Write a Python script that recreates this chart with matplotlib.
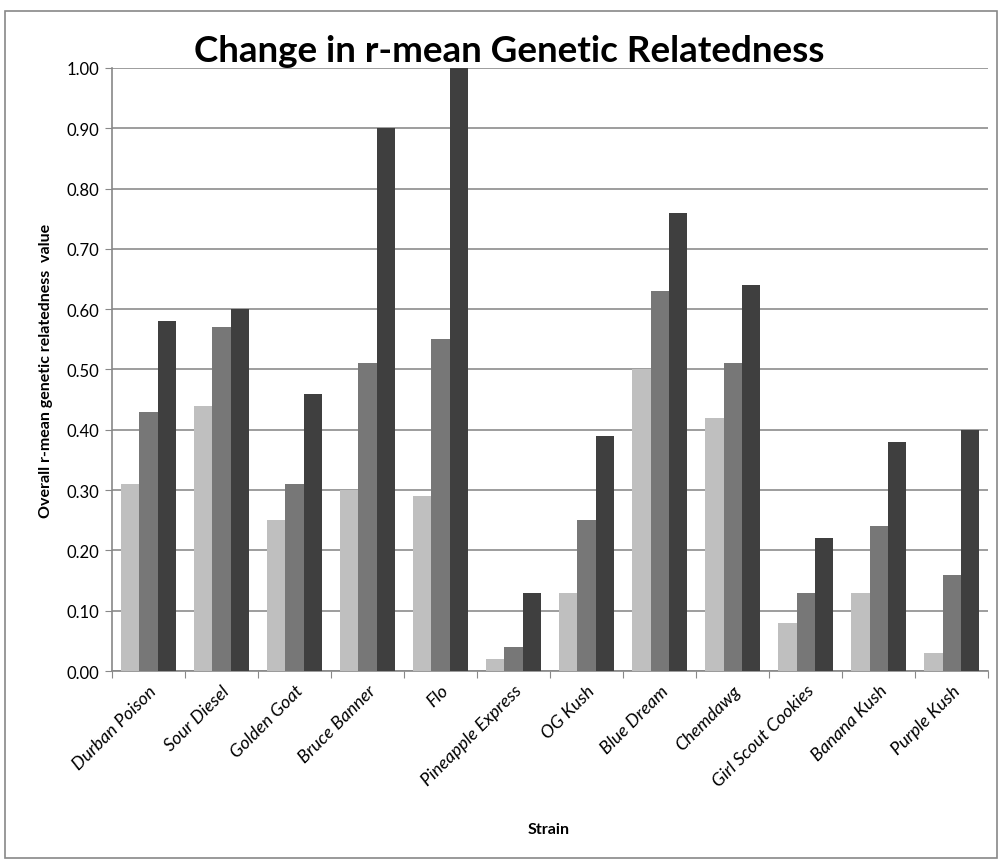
import numpy as np
import matplotlib.pyplot as plt
from matplotlib.patches import Rectangle

strains = ["Durban Poison", "Sour Diesel", "Golden Goat", "Bruce Banner", "Flo",
           "Pineapple Express", "OG Kush", "Blue Dream", "Chemdawg",
           "Girl Scout Cookies", "Banana Kush", "Purple Kush"]
series1 = [0.31, 0.44, 0.25, 0.30, 0.29, 0.02, 0.13, 0.50, 0.42, 0.08, 0.13, 0.03]
series2 = [0.43, 0.57, 0.31, 0.51, 0.55, 0.04, 0.25, 0.63, 0.51, 0.13, 0.24, 0.16]
series3 = [0.58, 0.60, 0.46, 0.90, 1.00, 0.13, 0.39, 0.76, 0.64, 0.22, 0.38, 0.40]
colors = ["#bfbfbf", "#777777", "#3f3f3f"]

plt.rcParams['font.family'] = ['Lato', 'DejaVu Sans']

fig = plt.figure(figsize=(9.98, 8.62), dpi=100)
ax = fig.add_axes([0.1122, 0.2204, 0.878, 0.6996])

x = np.arange(len(strains))
w = 0.25
for i, (vals, c) in enumerate(zip([series1, series2, series3], colors)):
    ax.bar(x + (i - 1) * w, vals, w, color=c, zorder=3)

ax.set_xlim(-0.5, len(strains) - 0.5)
ax.set_ylim(0, 1.0)
ax.set_yticks(np.arange(0, 1.01, 0.1))
ax.set_yticklabels(["%.2f" % v for v in np.arange(0, 1.01, 0.1)], fontsize=12)
ax.yaxis.grid(True, color="#8c8c8c", lw=1.2, zorder=0)

# ticks between groups, labels at group centres
ax.set_xticks(np.arange(-0.5, len(strains), 1.0), minor=False)
ax.set_xticklabels([])
ax.set_xticks(x, minor=True)
ax.set_xticklabels(strains, minor=True, rotation=45, ha="right", rotation_mode="anchor",
                   fontsize=13, style="italic")
ax.tick_params(axis="x", which="minor", length=0, pad=8)
ax.tick_params(axis="x", which="major", length=5, color="#888888")
ax.tick_params(axis="y", length=5, color="#888888", pad=4)

for s in ["top", "right"]:
    ax.spines[s].set_visible(False)
for s in ["left", "bottom"]:
    ax.spines[s].set_color("#888888")
    ax.spines[s].set_linewidth(1.2)

fig.text(0.51, 0.94, "Change in r-mean Genetic Relatedness", ha="center", va="center",
         fontsize=26.5, fontweight="bold")
ax.set_ylabel("Overall r-mean genetic relatedness  value", fontsize=11.5, fontweight="bold", labelpad=10)
fig.text(0.55, 0.037, "Strain", ha="center", va="center", fontsize=11.5, fontweight="bold")

fig.patches.append(Rectangle((0.005, 0.004), 0.994, 0.982, transform=fig.transFigure,
                             fill=False, edgecolor="#888888", lw=1.2))

fig.savefig("out.png", dpi=100)
